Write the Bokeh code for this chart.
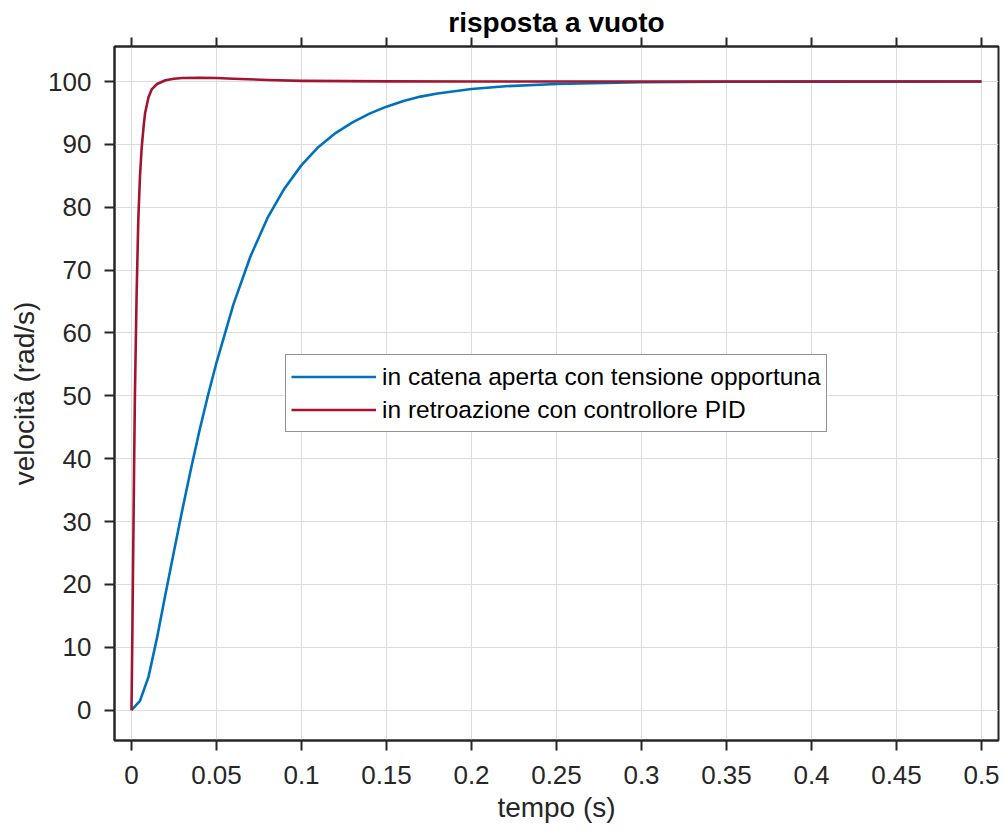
from bokeh.plotting import figure
from bokeh.models import FixedTicker, LinearAxis, Range1d
from bokeh.embed import file_html
from bokeh.resources import INLINE

# ---- data ----
t_open = [0, 0.005, 0.01, 0.015, 0.02, 0.025, 0.03, 0.035, 0.04, 0.045, 0.05,
          0.06, 0.07, 0.08, 0.09, 0.1, 0.11, 0.12, 0.13, 0.14, 0.15, 0.16,
          0.17, 0.18, 0.2, 0.22, 0.25, 0.3, 0.35, 0.4, 0.5]
v_open = [0, 1.5, 5.3, 11.5, 18.5, 25.3, 32.0, 38.4, 44.5, 50.1, 55.3,
          64.6, 72.2, 78.3, 83.0, 86.7, 89.6, 91.8, 93.5, 94.9, 96.0, 96.9,
          97.6, 98.1, 98.8, 99.25, 99.6, 99.88, 99.96, 99.99, 100.0]

t_pid = [0, 0.0005, 0.001, 0.0015, 0.002, 0.003, 0.004, 0.005, 0.006, 0.007,
         0.008, 0.01, 0.012, 0.015, 0.02, 0.025, 0.03, 0.04, 0.05, 0.06,
         0.08, 0.1, 0.15, 0.2, 0.5]
v_pid = [0, 12, 25, 38, 50, 66, 78, 85, 89.5, 92.5,
         95, 97.5, 98.8, 99.6, 100.2, 100.45, 100.55, 100.6, 100.55, 100.45,
         100.25, 100.1, 100.02, 100.0, 100.0]

x_ticks = [0, 0.05, 0.1, 0.15, 0.2, 0.25, 0.3, 0.35, 0.4, 0.45, 0.5]
x_tick_labels = ["0", "0.05", "0.1", "0.15", "0.2", "0.25", "0.3", "0.35", "0.4", "0.45", "0.5"]
y_ticks = [0, 10, 20, 30, 40, 50, 60, 70, 80, 90, 100]

label_open = "in catena aperta con tensione opportuna"
label_pid = "in retroazione con controllore PID"
title_text = "risposta a vuoto"
x_label = "tempo (s)"
y_label = "velocità (rad/s)"

FONT = "Liberation Sans"
AX = "#262626"

p = figure(width=1002, height=834, output_backend="svg", toolbar_location=None,
           x_range=Range1d(-0.01, 0.51), y_range=Range1d(-4.82, 105.57),
           min_border_left=114, min_border_right=4, min_border_top=46,
           min_border_bottom=94, background_fill_color="white",
           border_fill_color="white")

p.outline_line_color = AX
p.outline_line_width = 2

p.line(t_open, v_open, line_color="#0072BD", line_width=2.6, line_join="round",
       legend_label=label_open)
p.line(t_pid, v_pid, line_color="#A2142F", line_width=2.6, line_join="round",
       legend_label=label_pid)

# title
p.title.text = title_text
p.title.align = "center"
p.title.text_font = FONT
p.title.text_font_size = "28px"
p.title.text_font_style = "bold"
p.title.text_color = "black"
p.title.standoff = 0
p.title.offset = 0

# axes
xa = p.xaxis[0]
xa.ticker = FixedTicker(ticks=x_ticks)
xa.major_label_overrides = {t: s for t, s in zip(x_ticks, x_tick_labels)}
ya = p.yaxis[0]
ya.ticker = FixedTicker(ticks=y_ticks)

for ax in (xa, ya):
    ax.axis_line_color = AX
    ax.axis_line_width = 2
    ax.major_tick_line_color = AX
    ax.major_tick_line_width = 2
    ax.major_tick_out = 10
    ax.major_tick_in = 0
    ax.minor_tick_line_color = None
    ax.major_label_text_font = FONT
    ax.major_label_text_font_size = "26px"
    ax.major_label_text_color = AX
    ax.axis_label_text_font = FONT
    ax.axis_label_text_font_size = "28px"
    ax.axis_label_text_font_style = "normal"
    ax.axis_label_text_color = AX

xa.axis_label = x_label
ya.axis_label = y_label
xa.major_label_standoff = 15
xa.axis_label_standoff = 5
ya.major_label_standoff = 13
ya.axis_label_standoff = 5

top = LinearAxis(ticker=FixedTicker(ticks=x_ticks),
                 major_label_overrides={t: "" for t in x_ticks},
                 major_label_standoff=0, major_tick_out=9, major_tick_in=0,
                 minor_tick_line_color=None, axis_line_color=AX, axis_line_width=2,
                 major_tick_line_color=AX, major_tick_line_width=2)
p.add_layout(top, "above")

# grid
for g in (p.xgrid[0], p.ygrid[0]):
    g.grid_line_color = "#dcdcdc"
    g.grid_line_width = 1
p.xgrid[0].ticker = FixedTicker(ticks=x_ticks)
p.ygrid[0].ticker = FixedTicker(ticks=y_ticks)

# legend
lg = p.legend[0]
lg.location = (171, 308)
lg.label_text_font = FONT
lg.label_text_font_size = "24.5px"
lg.label_text_color = "black"
lg.glyph_width = 85
lg.glyph_height = 33
lg.label_height = 33
lg.label_standoff = 6
lg.padding = 5
lg.spacing = 0
lg.margin = 0
lg.border_line_color = AX
lg.border_line_width = 1
lg.background_fill_color = "white"
lg.background_fill_alpha = 1

open("out.html", "w").write(file_html(p, INLINE))
